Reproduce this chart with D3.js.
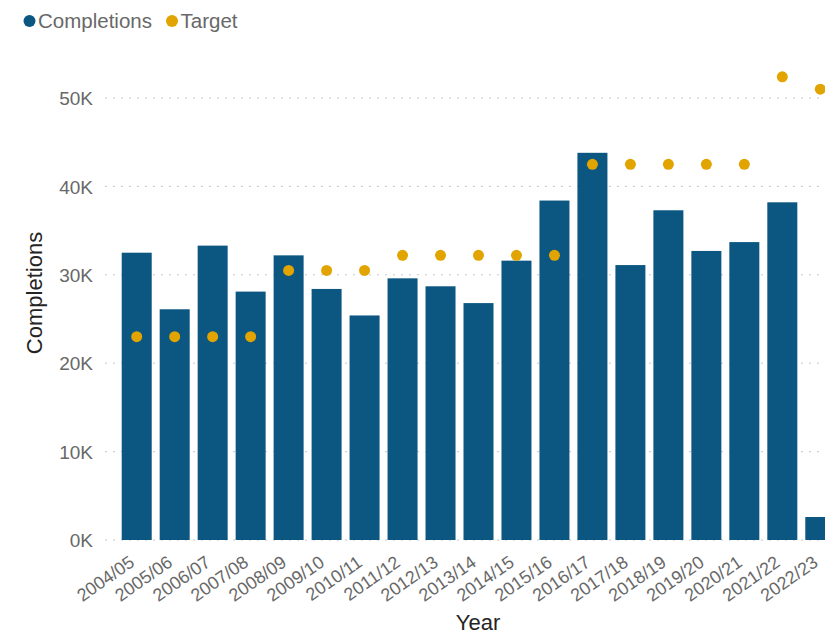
<!DOCTYPE html>
<html>
<head>
<meta charset="utf-8">
<script src="https://cdn.jsdelivr.net/npm/d3@7"></script>
<style>
  body { margin: 0; background: #fff; }
  svg { display: block; font-family: "Liberation Sans", Arial, sans-serif; }
  .tick text { fill: #686868; }
  .grid line { stroke: #c8c8c8; stroke-dasharray: 2,6; }
</style>
</head>
<body>
<div id="chart"></div>
<script>
const years = ["2004/05", "2005/06", "2006/07", "2007/08", "2008/09", "2009/10",
  "2010/11", "2011/12", "2012/13", "2013/14", "2014/15", "2015/16", "2016/17",
  "2017/18", "2018/19", "2019/20", "2020/21", "2021/22", "2022/23"];
const completions = [32500, 26100, 33300, 28100, 32200, 28400, 25400, 29600, 28700,
  26800, 31600, 38400, 43800, 31100, 37300, 32700, 33700, 38200, 2600];
const target = [23000, 23000, 23000, 23000, 30500, 30500, 30500, 32200, 32200,
  32200, 32200, 32200, 42500, 42500, 42500, 42500, 42500, 52400, 51000];
const yTicks = [0, 10000, 20000, 30000, 40000, 50000];

const width = 825, height = 635;
const plotLeft = 105, plotTop = 98, plotBottom = 540;

const svg = d3.select("#chart").append("svg")
  .attr("width", width)
  .attr("height", height);

// Scales
let x = d3.scaleBand()
  .domain(years)
  .range([plotLeft, 852])
  .paddingInner(0.21)
  .paddingOuter(0.44);

let y = d3.scaleLinear()
  .domain([0, 50000])
  .range([plotBottom, plotTop]);

// Gridlines
svg.append("g")
  .attr("class", "grid")
  .selectAll("line")
  .data(yTicks)
  .join("line")
  .attr("x1", plotLeft)
  .attr("x2", width)
  .attr("y1", d => y(d))
  .attr("y2", d => y(d));

// Y axis
let yAxis = svg.append("g")
  .attr("transform", "translate(93,0)")
  .call(d3.axisLeft(y).tickValues(yTicks).tickSize(0).tickPadding(0)
    .tickFormat(d => (d / 1000) + "K"));
yAxis.select(".domain").remove();
yAxis.selectAll("text")
  .attr("font-size", 19)
  .attr("dy", "0.35em");

// Bars
svg.append("g")
  .selectAll("rect")
  .data(completions)
  .join("rect")
  .attr("x", (d, i) => x(years[i]))
  .attr("y", d => y(d))
  .attr("width", x.bandwidth())
  .attr("height", d => y(0) - y(d))
  .attr("fill", "#0b5781");

// Target dots
svg.append("g")
  .selectAll("circle")
  .data(target)
  .join("circle")
  .attr("cx", (d, i) => x(years[i]) + x.bandwidth() / 2)
  .attr("cy", d => y(d))
  .attr("r", 5.5)
  .attr("fill", "#e1a400");

// X axis
let xAxis = svg.append("g")
  .attr("transform", "translate(0," + plotBottom + ")")
  .call(d3.axisBottom(x).tickSize(0).tickPadding(0));
xAxis.select(".domain").remove();
xAxis.selectAll("text")
  .attr("font-size", 18)
  .attr("text-anchor", "end")
  .attr("dy", 0)
  .attr("transform", "translate(-1,25) rotate(-35)");

// Axis titles
svg.append("text")
  .attr("transform", "translate(42,293) rotate(-90)")
  .attr("text-anchor", "middle")
  .attr("font-size", 22)
  .attr("fill", "#252423")
  .text("Completions");

svg.append("text")
  .attr("x", 478)
  .attr("y", 630)
  .attr("text-anchor", "middle")
  .attr("font-size", 22)
  .attr("fill", "#252423")
  .text("Year");

// Legend
let legend = [["Completions", "#0b5781", 29.5], ["Target", "#e1a400", 172]];
for (let [name, color, lx] of legend) {
  svg.append("circle")
    .attr("cx", lx)
    .attr("cy", 21)
    .attr("r", 6)
    .attr("fill", color);
  svg.append("text")
    .attr("x", lx + 8.5)
    .attr("y", 28)
    .attr("font-size", 20.5)
    .attr("fill", "#686868")
    .text(name);
}
</script>
</body>
</html>
